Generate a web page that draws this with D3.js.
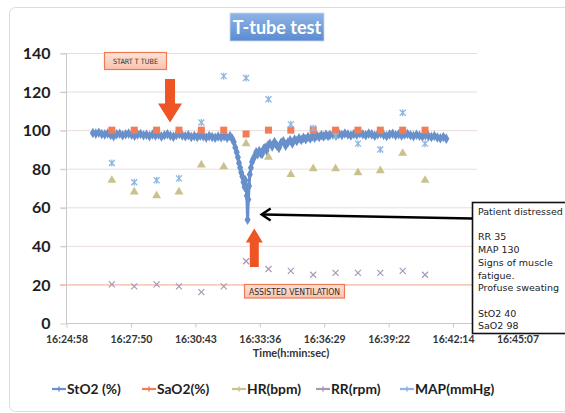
<!DOCTYPE html>
<html><head><meta charset="utf-8">
<script src="https://cdn.jsdelivr.net/npm/d3@7"></script>
<style>
html,body{margin:0;padding:0;background:#fff;}
svg{display:block;}
</style></head>
<body>
<svg id="c" width="565" height="413"></svg>
<script>
// ---------- DATA ----------
const startClock = "16:24:58";
const xTickLabels = ["16:24:58","16:27:50","16:30:43","16:33:36","16:36:29","16:39:22","16:42:14","16:45:07"];
const xTickStepSec = 172.8;
const yTicks = [0,20,40,60,80,100,120,140];

// sparse readings (one per minute)
const sparseTimes = ["16:27:01","16:28:01","16:29:01","16:30:01","16:31:01","16:32:01","16:33:01","16:34:01",
  "16:35:01","16:36:01","16:37:01","16:38:01","16:39:01","16:40:01","16:41:01"];
const sao2 = [100,100,100,100,100,100,98,100,100,100,100,100,100,100,100];
const hr   = [74,68,66,68,82,81,93,86,77,80,80,78,79,88,74];
const rr   = [20,19,20,19,16,19,32,28,27,25,26,26,26,27,25];
const map  = [83,73,74,75,104,128,127,116,103,101,97,93,90,109,93];

// StO2 continuous record: seconds after 16:24:58, value
const sto2Sec = [72,80,88,96,104,112,120,128,136,144,152,160,168,176,184,192,200,208,216,224,232,240,248,256,264,272,280,288,296,304,312,320,328,336,344,352,360,368,376,384,392,400,408,416,424,432,440,
  446,450,454,458,461,464,467,470,473,476,479,481,483,485,487,489,491,493,496,499,502,506,510,514,518,522,526,530,534,538,542,547,
  553,559,565,571,577,583,589,595,601,607,613,619,625,631,637,643,649,655,661,667,673,679,685,691,697,703,708,
  716,724,732,740,748,756,764,772,780,788,796,804,812,820,828,836,844,852,860,868,876,884,892,900,908,916,924,932,940,948,956,964,972,980,988,996,1004,1012,1020];
const sto2Val = [98.5,98.2,98.6,98.0,97.8,98.3,97.5,96.8,97.9,98.1,97.4,97.9,98.2,97.6,97.1,97.8,98.0,97.3,97.6,96.9,97.7,97.2,97.8,96.7,97.4,97.9,97.1,96.6,97.5,98.0,97.2,96.8,97.3,96.5,97.0,96.4,97.1,96.8,96.2,96.9,96.5,96.0,96.7,96.3,96.8,96.1,96.9,
  95.5,93.8,91,88.5,86,83,80.5,78,76,73,70.5,74,71,66,53.5,64,71,77,80.5,83.5,85,86.5,88.5,87.5,89.2,88,87.6,90.2,90.8,89.5,92.2,93,
  91.5,93.8,92.2,90.8,93.5,94.2,91.9,93.6,94.8,93.1,95.2,94.4,95.8,94.9,96.1,95.3,96.4,95.7,96.8,96.0,97.1,96.5,97.3,96.7,97.6,97.0,97.5,
  97.8,97.2,98.1,97.5,98.3,97.7,97.2,98.0,97.6,98.4,97.9,97.3,98.2,97.8,97.1,97.9,98.3,97.5,97.0,97.8,98.1,97.4,97.9,97.2,97.7,98.0,97.3,96.9,97.6,97.1,96.7,97.4,96.9,96.4,97.0,96.2,95.8,96.5,95.6];

const legendNames = ["StO2 (%)","SaO2(%)","HR(bpm)","RR(rpm)","MAP(mmHg)"];
const noteLines = ["Patient distressed","","RR 35","MAP 130","Signs of muscle","fatigue.","Profuse sweating","","StO2 40","SaO2 98"];

// ---------- HELPERS ----------
const toSec = s => { const [h,m,ss] = s.split(":").map(Number); return h*3600+m*60+ss; };
const t0 = toSec(startClock);
const sparseSec = sparseTimes.map(s => toSec(s) - t0);

const col = {sto2:"#6890cb", sao2:"#f07d58", hr:"#c9c28c", rr:"#a898b5", map:"#8fb6e3"};

const svg = d3.select("#c");
const L = 66, R = 517, T = 53, B = 323, gridRight = 477;
const x = d3.scaleLinear().domain([0, xTickStepSec*(xTickLabels.length-1)]).range([L, R]);
const y = d3.scaleLinear().domain([0,140]).range([B, T]);

// outer border
svg.append("rect").attr("x",9.5).attr("y",7.5).attr("width",600).attr("height",404).attr("rx",6)
  .attr("fill","#fff").attr("stroke","#dcdcdc");

// title
const tg = svg.append("defs").append("linearGradient").attr("id","tgrad").attr("x1",0).attr("y1",0).attr("x2",0).attr("y2",1);
tg.append("stop").attr("offset","0%").attr("stop-color","#8fb4e6");
tg.append("stop").attr("offset","100%").attr("stop-color","#5b8bd0");
svg.append("rect").attr("x",230).attr("y",13).attr("width",94).attr("height",28).attr("fill","url(#tgrad)")
  .attr("stroke","#c8d6ea").attr("stroke-width",0.8);
svg.append("text").attr("x",277).attr("y",33.5).attr("text-anchor","middle")
  .attr("font-family","Lato, 'Open Sans', sans-serif").attr("font-weight",700).attr("font-size",18)
  .attr("fill","#fff").text("T-tube test");

// gridlines
svg.append("g").selectAll("line").data(yTicks.filter(d=>d>0)).join("line")
  .attr("x1",L-6).attr("x2",gridRight).attr("y1",d=>y(d)+0.5).attr("y2",d=>y(d)+0.5)
  .attr("stroke",d=>d===20?"#f2a48c":"#e9dcdc").attr("stroke-width",1);

// y axis
const yAxis = d3.axisLeft(y).tickValues(yTicks).tickSize(6).tickPadding(10).tickFormat(d3.format("d"));
const gy = svg.append("g").attr("transform",`translate(${L+0.5},0.5)`).call(yAxis);
gy.select(".domain").attr("stroke","#c9c9c9").attr("d",`M0,${T}V${B}`);
gy.selectAll(".tick line").attr("stroke","#c9c9c9");
gy.selectAll("text").attr("font-family","Lato, sans-serif").attr("font-weight",700).attr("font-size",16).attr("fill","#1e1e1e");

// x axis
const xAxis = d3.axisBottom(x).tickValues(xTickLabels.map((_,i)=>i*xTickStepSec)).tickSize(4).tickPadding(8)
  .tickFormat((d,i)=>xTickLabels[i]);
const gx = svg.append("g").attr("transform",`translate(0.5,${B+0.5})`).call(xAxis);
gx.select(".domain").attr("stroke","#c9c9c9").attr("d",`M${L},0H${R}`);
gx.selectAll(".tick line").attr("stroke","#c9c9c9");
gx.selectAll("text").attr("font-family","Lato, sans-serif").attr("font-weight",700).attr("font-size",10.5).attr("fill","#333");
svg.append("text").attr("x",291).attr("y",357).attr("text-anchor","middle")
  .attr("font-family","Lato, sans-serif").attr("font-weight",700).attr("font-size",11).attr("fill","#333")
  .text("Time(h:min:sec)");

// ---------- SERIES ----------
const plot = svg.append("g");
// StO2 line
const sto2 = sto2Sec.map((s,i)=>[s, sto2Val[i]]);
plot.append("path").datum(sto2).attr("fill","none").attr("stroke",col.sto2).attr("stroke-width",3)
  .attr("stroke-linejoin","round")
  .attr("d", d3.line().x(d=>x(d[0])).y(d=>y(d[1])));
plot.append("g").selectAll("path").data(sto2).join("path")
  .attr("transform",d=>`translate(${x(d[0])},${y(d[1])})`)
  .attr("d", d3.symbol(d3.symbolDiamond, 32)).attr("fill",col.sto2);

// SaO2 squares
plot.append("g").selectAll("rect").data(sao2).join("rect")
  .attr("x",(d,i)=>x(sparseSec[i])-3.5).attr("y",d=>y(d)-3.5).attr("width",7).attr("height",7)
  .attr("fill",col.sao2);
// HR triangles
plot.append("g").selectAll("path").data(hr).join("path")
  .attr("transform",(d,i)=>`translate(${x(sparseSec[i])},${y(d)})`)
  .attr("d", d3.symbol(d3.symbolTriangle, 34)).attr("fill",col.hr);
// RR crosses
plot.append("g").selectAll("path").data(rr).join("path")
  .attr("transform",(d,i)=>`translate(${x(sparseSec[i])},${y(d)})`)
  .attr("d","M-3,-3L3,3M-3,3L3,-3").attr("stroke",col.rr).attr("stroke-width",1.2).attr("fill","none");
// MAP asterisks
plot.append("g").selectAll("path").data(map).join("path")
  .attr("transform",(d,i)=>`translate(${x(sparseSec[i])},${y(d)})`)
  .attr("d","M-3,-3L3,3M-3,3L3,-3M0,-3.5L0,3.5").attr("stroke",col.map).attr("stroke-width",1.3).attr("fill","none");

// ---------- ANNOTATIONS ----------
const lg = svg.select("defs").append("linearGradient").attr("id","lgrad").attr("x1",0).attr("y1",0).attr("x2",0).attr("y2",1);
lg.append("stop").attr("offset","0%").attr("stop-color","#fde3d8");
lg.append("stop").attr("offset","100%").attr("stop-color","#f8c2ad");
const arrowCol = "#ef5424";
const lblFont = "'DejaVu Sans Condensed','DejaVu Sans',sans-serif";

// START T TUBE
svg.append("rect").attr("x",104.5).attr("y",52.5).attr("width",62).attr("height",17).attr("fill","url(#lgrad)")
  .attr("stroke","#ef7a55").attr("stroke-width",1.2);
svg.append("text").attr("x",135.5).attr("y",64).attr("text-anchor","middle").attr("font-family",lblFont)
  .attr("font-size",7.2).attr("fill","#3a2a25").text("START T TUBE");
const ax1 = x(279), ay1 = y(104);
svg.append("path").attr("fill",arrowCol)
  .attr("d",`M${ax1-5},79 H${ax1+5} V${ay1-19} H${ax1+12} L${ax1},${ay1} L${ax1-12},${ay1-19} H${ax1-5} Z`);

// ASSISTED VENTILATION
const ax2 = x(505), ay2 = y(49);
svg.append("path").attr("fill",arrowCol)
  .attr("d",`M${ax2-4.5},267 H${ax2+4.5} V${ay2+14} H${ax2+8.5} L${ax2},${ay2} L${ax2-8.5},${ay2+14} H${ax2-4.5} Z`);
svg.append("rect").attr("x",244.5).attr("y",284.5).attr("width",100).attr("height",13.5).attr("fill","url(#lgrad)")
  .attr("stroke","#ef7a55").attr("stroke-width",1.2);
svg.append("text").attr("x",294.5).attr("y",294.5).attr("text-anchor","middle").attr("font-family",lblFont)
  .attr("font-size",8.6).attr("fill","#3a2a25").text("ASSISTED VENTILATION");

// note box and black arrow
svg.append("rect").attr("x",472.5).attr("y",202.5).attr("width",120).attr("height",131)
  .attr("fill","#fff").attr("stroke","#111").attr("stroke-width",1.6);
svg.append("g").selectAll("text").data(noteLines).join("text")
  .attr("x",478).attr("y",(d,i)=>215+i*12.7).attr("font-family","'DejaVu Sans',sans-serif").attr("font-size",9.5)
  .attr("fill","#222").text(d=>d);
const tipX = x(526)-0.5, tipY = 214.5;
svg.append("path").attr("d",`M472,218.5 L${tipX+2},${tipY}`).attr("stroke","#000").attr("stroke-width",2.4).attr("fill","none");
svg.append("path").attr("d",`M${tipX+9},${tipY-6} L${tipX},${tipY} L${tipX+9},${tipY+6}`)
  .attr("stroke","#000").attr("stroke-width",2.4).attr("fill","none").attr("stroke-linejoin","miter");

// ---------- LEGEND ----------
const legX = [52,142,232,316,400];
const legCols = [col.sto2,col.sao2,col.hr,col.rr,col.map];
const leg = svg.append("g").selectAll("g").data(legendNames).join("g")
  .attr("transform",(d,i)=>`translate(${legX[i]},389)`);
leg.append("line").attr("x1",0).attr("x2",14).attr("y1",0).attr("y2",0)
  .attr("stroke",(d,i)=>legCols[i]).attr("stroke-width",2.2);
leg.append("line").attr("x1",7).attr("x2",7).attr("y1",-2.5).attr("y2",2.5)
  .attr("stroke",(d,i)=>legCols[i]).attr("stroke-width",1.5);
leg.append("text").attr("x",15).attr("y",5).attr("font-family","Lato, sans-serif").attr("font-weight",700)
  .attr("font-size",13.8).attr("fill","#1e1e1e").text(d=>d);
</script>
</body></html>
